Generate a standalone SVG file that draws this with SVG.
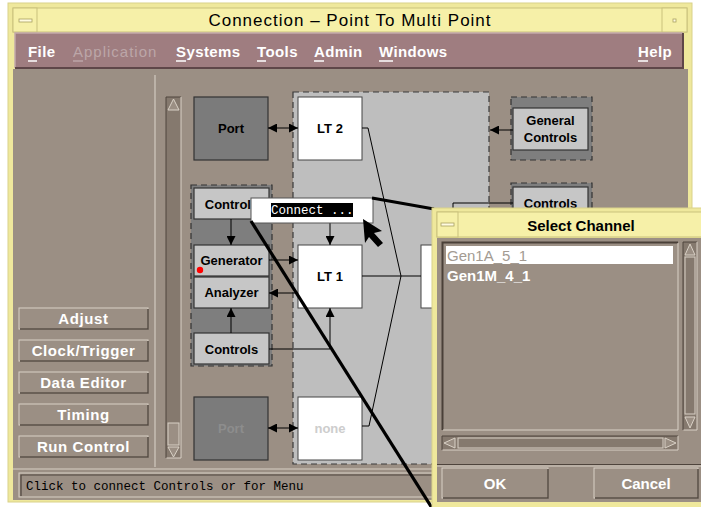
<svg xmlns="http://www.w3.org/2000/svg" width="701" height="507" viewBox="0 0 701 507">
  <defs>
    <marker id="ah" viewBox="0 0 10 10" refX="10" refY="5" markerWidth="9" markerHeight="9" markerUnits="userSpaceOnUse" orient="auto-start-reverse">
      <path d="M0,0 L10,5 L0,10 z" fill="#000"/>
    </marker>
    <style>
      .ui { font-family: "Liberation Sans", Arial, sans-serif; }
      .mono { font-family: "Liberation Mono", "Courier New", monospace; }
      .menu { font-family: "Liberation Sans", Arial, sans-serif; font-size: 15px; font-weight: bold; fill: #ffffff; letter-spacing: 0.4px; }
      .btn { fill: #9b8f84; stroke: #d9d1c6; stroke-width: 1; }
      .btnsh { fill: none; stroke: #50463e; stroke-width: 1.5; }
      .btntx { font-family: "Liberation Sans", Arial, sans-serif; font-size: 15px; font-weight: bold; fill: #ffffff; letter-spacing: 0.6px; text-anchor: middle; }
      .lbl { font-family: "Liberation Sans", Arial, sans-serif; font-size: 13px; font-weight: bold; fill: #000; text-anchor: middle; }
      .wnode { fill: #ffffff; stroke: #444; stroke-width: 1; }
      .lnode { fill: #c6c6c6; stroke: #333; stroke-width: 1.2; }
      .dnode { fill: #7b7b7b; stroke: #333; stroke-width: 1.2; }
      .grp { fill: #7e7e7e; stroke: #333; stroke-width: 1.2; stroke-dasharray: 6 4; }
      .wire { fill: none; stroke: #000; stroke-width: 1; }
      .thick { fill: none; stroke: #000; stroke-width: 3.2; }
      .trough { fill: #85796e; }
      .hl { stroke: #d9d1c6; stroke-width: 1; fill: none; }
      .sh { stroke: #4e443c; stroke-width: 1; fill: none; }
    </style>
  </defs>

  <rect x="0" y="0" width="701" height="507" fill="#ffffff"/>

  <!-- main window frame -->
  <g id="main-window">
    <rect x="8" y="3" width="684" height="499" fill="#efe89c" stroke="#d9d28a" stroke-width="1"/>
    <!-- title bar -->
    <rect x="13" y="8" width="674" height="24" fill="#f6f0a8" stroke="#c9c17c" stroke-width="1"/>
    <rect x="13" y="8" width="24" height="24" fill="#f6f0a8" stroke="#c9c17c" stroke-width="1"/>
    <rect x="19" y="19" width="13" height="3" fill="#fffbe0" stroke="#a9a060" stroke-width="0.8"/>
    <rect x="662" y="8" width="25" height="24" fill="#f6f0a8" stroke="#c9c17c" stroke-width="1"/>
    <rect x="673" y="19" width="3" height="3" fill="#fffbe0" stroke="#a9a060" stroke-width="0.8"/>
    <text class="ui" x="350" y="26" font-size="17" letter-spacing="1" text-anchor="middle" fill="#000">Connection – Point To Multi Point</text>

    <!-- menu bar -->
    <rect x="15" y="33" width="668" height="35" fill="#9f7d80"/>
    <path d="M15,68 V33 H683" stroke="#c4a9ab" stroke-width="1.5" fill="none"/>
    <path d="M15,68 H683 V33" stroke="#5e4648" stroke-width="2" fill="none"/>
    <text class="menu" x="28" y="57">File</text>
    <text class="menu" x="73" y="57" style="fill:#bca6a8;font-weight:normal;letter-spacing:1px">Application</text>
    <text class="menu" x="176" y="57">Systems</text>
    <text class="menu" x="257" y="57">Tools</text>
    <text class="menu" x="314" y="57">Admin</text>
    <text class="menu" x="379" y="57">Windows</text>
    <text class="menu" x="638" y="57">Help</text>
    <g stroke="#ffffff" stroke-width="1.5">
      <line x1="28" y1="61" x2="37" y2="61"/>
      <line x1="176" y1="61" x2="186" y2="61"/>
      <line x1="257" y1="61" x2="266" y2="61"/>
      <line x1="314" y1="61" x2="324" y2="61"/>
      <line x1="379" y1="61" x2="393" y2="61"/>
      <line x1="638" y1="61" x2="648" y2="61"/>
    </g>
    <line x1="73" y1="61" x2="83" y2="61" stroke="#bca6a8" stroke-width="1.5"/>

    <!-- client area -->
    <rect x="13" y="69" width="675" height="431" fill="#9b8f84"/>
    <line x1="155" y1="75" x2="155" y2="467" stroke="#d2cac0" stroke-width="1.2"/>

    <!-- vertical scroll bar -->
    <rect x="166" y="97" width="15" height="361" class="trough"/>
    <path d="M166,458 V97 H181" class="sh"/>
    <path d="M166.5,458 H181 V97" class="hl"/>
    <path d="M168,110 L173.5,99 L179,110 z" fill="#9b8f84" stroke="#d9d1c6" stroke-width="1"/>
    <rect x="168" y="423" width="11" height="22" fill="#9b8f84" stroke="#d9d1c6" stroke-width="1"/>
    <path d="M168,447 L173.5,457 L179,447 z" fill="#9b8f84" stroke="#d9d1c6" stroke-width="1"/>

    <!-- side buttons -->
    <g>
      <rect x="19" y="308" width="129" height="21" class="btn"/>
      <path d="M20,329 H148 V309" class="btnsh"/>
      <text class="btntx" x="83.5" y="324">Adjust</text>
      <rect x="19" y="340" width="129" height="21" class="btn"/>
      <path d="M20,361 H148 V341" class="btnsh"/>
      <text class="btntx" x="83.5" y="356">Clock/Trigger</text>
      <rect x="19" y="372" width="129" height="21" class="btn"/>
      <path d="M20,393 H148 V373" class="btnsh"/>
      <text class="btntx" x="83.5" y="388">Data Editor</text>
      <rect x="19" y="404" width="129" height="21" class="btn"/>
      <path d="M20,425 H148 V405" class="btnsh"/>
      <text class="btntx" x="83.5" y="420">Timing</text>
      <rect x="19" y="436" width="129" height="21" class="btn"/>
      <path d="M20,457 H148 V437" class="btnsh"/>
      <text class="btntx" x="83.5" y="452">Run Control</text>
    </g>

    <!-- status line -->
    <line x1="13" y1="469" x2="688" y2="469" stroke="#d9d1c6" stroke-width="1"/>
    <rect x="19" y="473" width="660" height="24" fill="#9b8f84" stroke="#d9d1c6" stroke-width="1"/>
    <path d="M21,496 V475 H678" stroke="#4e443c" stroke-width="1.2" fill="none"/>
    <text class="mono" x="26" y="490" font-size="12.5" fill="#000">Click to connect Controls or for Menu</text>
  </g>

  <!-- shaded link area -->
  <rect id="link-area" x="293" y="92" width="196" height="372" fill="#bebebe" stroke="#3a3a3a" stroke-width="1.2" stroke-dasharray="6 4"/>

  <!-- nodes -->
  <g id="port-top">
    <rect x="194" y="97" width="74" height="63" class="dnode"/>
    <text class="lbl" x="231" y="133">Port</text>
  </g>
  <g id="lt2">
    <rect x="298" y="97" width="64" height="63" class="wnode"/>
    <text class="lbl" x="330" y="133">LT 2</text>
  </g>
  <g id="general-controls">
    <rect x="511" y="97" width="81" height="63" class="grp"/>
    <rect x="513" y="108" width="75" height="42" class="lnode"/>
    <text class="lbl" x="550.5" y="125">General</text>
    <text class="lbl" x="550.5" y="142">Controls</text>
  </g>
  <g id="controls-right">
    <rect x="511" y="183" width="81" height="60" class="grp"/>
    <rect x="513" y="187" width="75" height="50" class="lnode"/>
    <text class="lbl" x="550.5" y="208">Controls</text>
  </g>
  <g id="gen-group">
    <rect x="191" y="185" width="81" height="181" class="grp"/>
  </g>
  <g id="controls-top">
    <rect x="194" y="188" width="75" height="31" class="lnode"/>
    <text class="lbl" x="231.5" y="209">Controls</text>
  </g>
  <g id="generator">
    <rect x="194" y="245" width="75" height="31" class="lnode"/>
    <text class="lbl" x="231.5" y="265">Generator</text>
    <circle cx="200" cy="270" r="3.2" fill="#ff0000"/>
  </g>
  <g id="analyzer">
    <rect x="194" y="277" width="75" height="31" class="lnode"/>
    <text class="lbl" x="231.5" y="297">Analyzer</text>
  </g>
  <g id="controls-bottom">
    <rect x="194" y="333" width="75" height="31" class="lnode"/>
    <text class="lbl" x="231.5" y="354">Controls</text>
  </g>
  <g id="lt1">
    <rect x="298" y="245" width="64" height="63" class="wnode"/>
    <text class="lbl" x="330" y="281">LT 1</text>
  </g>
  <g id="hub">
    <rect x="421" y="245" width="50" height="63" class="wnode"/>
  </g>
  <g id="port-bottom">
    <rect x="194" y="397" width="74" height="63" class="dnode"/>
    <text class="lbl" x="231" y="433" style="fill:#8d8d8d">Port</text>
  </g>
  <g id="none">
    <rect x="298" y="397" width="64" height="63" class="wnode"/>
    <text class="lbl" x="330" y="433" style="fill:#cdcdcd">none</text>
  </g>

  <!-- connectors -->
  <g id="connectors">
    <line x1="268" y1="128" x2="298" y2="128" class="wire" marker-start="url(#ah)" marker-end="url(#ah)"/>
    <line x1="268" y1="428" x2="298" y2="428" class="wire" marker-start="url(#ah)" marker-end="url(#ah)"/>
    <line x1="513" y1="130" x2="490" y2="130" class="wire" marker-end="url(#ah)"/>
    <line x1="231" y1="219" x2="231" y2="245" class="wire" marker-end="url(#ah)"/>
    <line x1="231" y1="333" x2="231" y2="308" class="wire" marker-end="url(#ah)"/>
    <line x1="269" y1="260" x2="298" y2="260" class="wire" marker-end="url(#ah)"/>
    <line x1="298" y1="293" x2="269" y2="293" class="wire" marker-end="url(#ah)"/>
    <polyline points="269,349 330,349 330,308" class="wire" marker-end="url(#ah)"/>
    <line x1="330" y1="222" x2="330" y2="245" class="wire" marker-end="url(#ah)"/>
    <line x1="362" y1="276" x2="421" y2="276" class="wire"/>
    <polyline points="362,128 368,128 401,276 369,426 362,426" class="wire"/>
    <polyline points="513,203 453,203 453,245" class="wire"/>
  </g>

  <!-- popup menu -->
  <g id="connect-popup">
    <rect x="251" y="198" width="122" height="25" fill="#ffffff" stroke="#555" stroke-width="1"/>
    <rect x="271" y="203" width="82" height="14" fill="#000"/>
    <text class="mono" x="271" y="214" font-size="12.5" fill="#ffffff">Connect ...</text>
  </g>

  <!-- callout lines -->
  <g id="callouts">
    <line x1="372" y1="198" x2="434" y2="209" class="thick"/>
    <line x1="251" y1="221" x2="432" y2="508" class="thick"/>
  </g>

  <!-- pointer -->
  <path d="M363,219 L382,231 L374,233 L383,243 L378,247 L369,237 L365,243 z" fill="#000"/>

  <!-- channel dialog -->
  <g id="select-channel">
    <rect x="432" y="208" width="272" height="302" fill="#efe89c" stroke="#d9d28a" stroke-width="1"/>
    <rect x="437" y="212" width="267" height="25" fill="#f6f0a8" stroke="#c9c17c" stroke-width="1"/>
    <rect x="437" y="212" width="21" height="25" fill="#f6f0a8" stroke="#c9c17c" stroke-width="1"/>
    <rect x="441" y="223" width="13" height="3" fill="#fffbe0" stroke="#a9a060" stroke-width="0.8"/>
    <text class="ui" x="581" y="231" font-size="15" font-weight="bold" text-anchor="middle" fill="#000">Select Channel</text>
    <rect x="437" y="238" width="267" height="264" fill="#9b8f84"/>

    <!-- list -->
    <rect x="442" y="242" width="236" height="188" fill="#9b8f84"/>
    <path d="M442.5,430 V242.5 H678" stroke="#4a4038" stroke-width="2" fill="none"/>
    <path d="M443,430 H678 V243" class="hl"/>
    <rect x="446" y="246" width="227" height="18" fill="#ffffff"/>
    <text class="ui" x="447" y="261" font-size="15" fill="#a39b92">Gen1A_5_1</text>
    <text class="ui" x="447" y="281" font-size="15" font-weight="bold" fill="#ffffff">Gen1M_4_1</text>

    <!-- list scroll bars -->
    <rect x="683" y="242" width="14" height="188" class="trough"/>
    <path d="M683,430 V242 H697" class="sh"/>
    <path d="M683.5,430 H697 V242" class="hl"/>
    <path d="M685,255 L690,244 L695,255 z" fill="#9b8f84" stroke="#d9d1c6" stroke-width="1"/>
    <rect x="685" y="257" width="10" height="157" fill="#85796e" stroke="#d9d1c6" stroke-width="1"/>
    <path d="M685,417 L690,428 L695,417 z" fill="#9b8f84" stroke="#d9d1c6" stroke-width="1"/>

    <rect x="442" y="436" width="236" height="14" class="trough"/>
    <path d="M442,450 V436 H678" class="sh"/>
    <path d="M442.5,450 H678 V436" class="hl"/>
    <path d="M455,438 L444,443 L455,448 z" fill="#9b8f84" stroke="#d9d1c6" stroke-width="1"/>
    <rect x="458" y="438" width="205" height="10" fill="#85796e" stroke="#d9d1c6" stroke-width="1"/>
    <path d="M665,438 L676,443 L665,448 z" fill="#9b8f84" stroke="#d9d1c6" stroke-width="1"/>

    <line x1="437" y1="464.5" x2="704" y2="464.5" stroke="#4e443c" stroke-width="1"/>
    <line x1="437" y1="466" x2="704" y2="466" stroke="#d9d1c6" stroke-width="1"/>

    <!-- buttons -->
    <rect x="442" y="468" width="106" height="30" class="btn"/>
    <path d="M443,498 H548 V469" class="btnsh"/>
    <text class="ui" x="495" y="489" font-size="15" font-weight="bold" fill="#ffffff" text-anchor="middle">OK</text>
    <rect x="594" y="468" width="104" height="30" class="btn"/>
    <path d="M595,498 H698 V469" class="btnsh"/>
    <text class="ui" x="646" y="489" font-size="15" font-weight="bold" fill="#ffffff" text-anchor="middle">Cancel</text>
  </g>
</svg>
